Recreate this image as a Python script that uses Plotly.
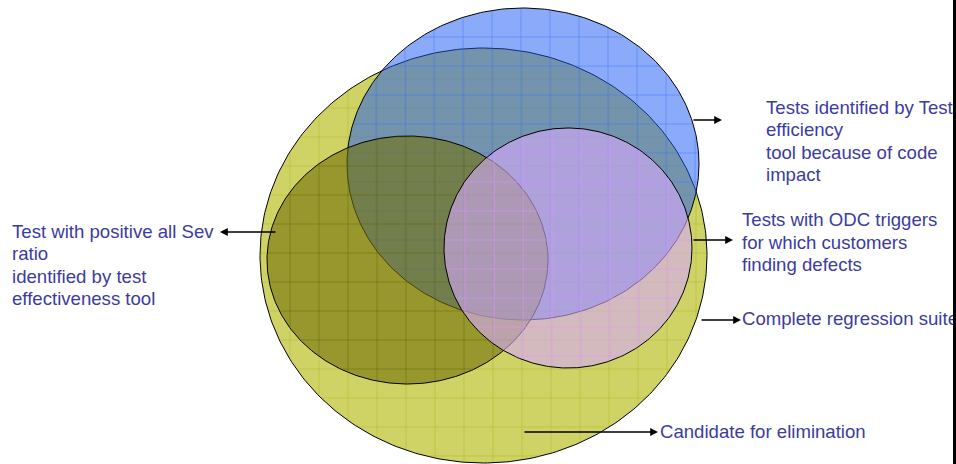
import numpy as np
import plotly.graph_objects as go

# Sets (ellipses) in drawing order: name, center x, center y, radius x, radius y (pixel-like units)
set_names = ["Complete regression suite", "Tests identified by Test efficiency",
             "Test with positive all Sev ratio", "Tests with ODC triggers"]
set_cx = [483.5, 523, 407.5, 568]
set_cy = [255.5, 164, 260, 248]
set_rx = [223.5, 176, 140.5, 124]
set_ry = [207.5, 156, 124, 120]
set_fill = ["rgb(207,210,100)", "rgba(25,85,245,0.5)", "rgba(113,111,10,0.6)", "rgba(213,170,251,0.6)"]
set_grid = ["rgba(150,165,0,0.28)", "rgba(60,110,255,0.45)", "rgba(100,100,0,0.35)", "rgba(228,150,255,0.5)"]
grid_off_x = [522, 463, 377, 610]
grid_off_y = [195, 37, 195, 182]
grid_step = 29

# Labels
label_lines = [
    ["Tests identified by Test", "efficiency", "tool because of code", "impact"],
    ["Tests with ODC triggers", "for which customers", "finding defects"],
    ["Complete regression suite"],
    ["Test with positive all Sev", "ratio", "identified by test", "effectiveness tool"],
    ["Candidate for elimination"],
]
label_x = [766, 742, 742, 12, 660]
label_y = [109, 221.5, 320, 233, 433]
line_gap = 22.5

# Arrows: tail -> head
arrow_tail_x = [692, 692, 700, 277, 523]
arrow_tail_y = [120, 240, 320, 232, 432]
arrow_head_x = [722, 733, 741, 220, 658]
arrow_head_y = [120, 240, 320, 232, 432]

W, H = 956, 464
fig = go.Figure()

t = np.linspace(0, 2 * np.pi, 361)
for cx, cy, rx, ry, fc, gc, ox, oy in zip(set_cx, set_cy, set_rx, set_ry, set_fill,
                                          set_grid, grid_off_x, grid_off_y):
    fig.add_trace(go.Scatter(x=cx + rx * np.cos(t), y=cy + ry * np.sin(t), mode="lines",
                             fill="toself", fillcolor=fc, line=dict(color="black", width=1),
                             hoverinfo="skip", showlegend=False))
    gx, gy = [], []
    k0 = int(np.floor((cx - rx - ox) / grid_step))
    k1 = int(np.ceil((cx + rx - ox) / grid_step))
    for k in range(k0, k1 + 1):
        g = ox + k * grid_step
        u = (g - cx) / rx
        if abs(u) < 0.999:
            h = ry * np.sqrt(1 - u * u) - 1
            gx += [g, g, None]
            gy += [cy - h, cy + h, None]
    k0 = int(np.floor((cy - ry - oy) / grid_step))
    k1 = int(np.ceil((cy + ry - oy) / grid_step))
    for k in range(k0, k1 + 1):
        g = oy + k * grid_step
        u = (g - cy) / ry
        if abs(u) < 0.999:
            h = rx * np.sqrt(1 - u * u) - 1
            gx += [cx - h, cx + h, None]
            gy += [g, g, None]
    fig.add_trace(go.Scatter(x=gx, y=gy, mode="lines", line=dict(color=gc, width=1),
                             hoverinfo="skip", showlegend=False))

# label text as a clipped text trace
tx, ty, tt = [], [], []
for lines, x0, y0 in zip(label_lines, label_x, label_y):
    for i, s in enumerate(lines):
        tx.append(x0)
        ty.append(y0 + i * line_gap)
        tt.append(s)
fig.add_trace(go.Scatter(x=tx, y=ty, text=tt, mode="text", textposition="middle right",
                         textfont=dict(family="Liberation Sans, Arial, sans-serif", size=18.6,
                                       color="rgb(60,60,160)"),
                         cliponaxis=True, hoverinfo="skip", showlegend=False))

annotations = []
for x0, y0, x1, y1 in zip(arrow_tail_x, arrow_tail_y, arrow_head_x, arrow_head_y):
    annotations.append(dict(x=x1, y=y1, ax=x0, ay=y0, xref="x", yref="y", axref="x", ayref="y",
                            text="", showarrow=True, arrowhead=2, arrowsize=1.2,
                            arrowwidth=1.3, arrowcolor="black"))

# black edge bar on the right of the slide
shapes = [dict(type="rect", xref="paper", yref="paper", x0=1.0, x1=1.02, y0=-0.05, y1=1.05,
               fillcolor="black", line=dict(width=0), layer="above")]

fig.update_layout(
    width=W, height=H,
    margin=dict(l=0, r=3, t=0, b=0, autoexpand=False),
    paper_bgcolor="black", plot_bgcolor="white",
    annotations=annotations, shapes=shapes,
    xaxis=dict(range=[0, W - 3], visible=False, fixedrange=True),
    yaxis=dict(range=[H, 0], visible=False, fixedrange=True),
    showlegend=False,
)
fig.write_html("out.html", config={"displayModeBar": False},
               post_script="document.body.style.margin='0';")
